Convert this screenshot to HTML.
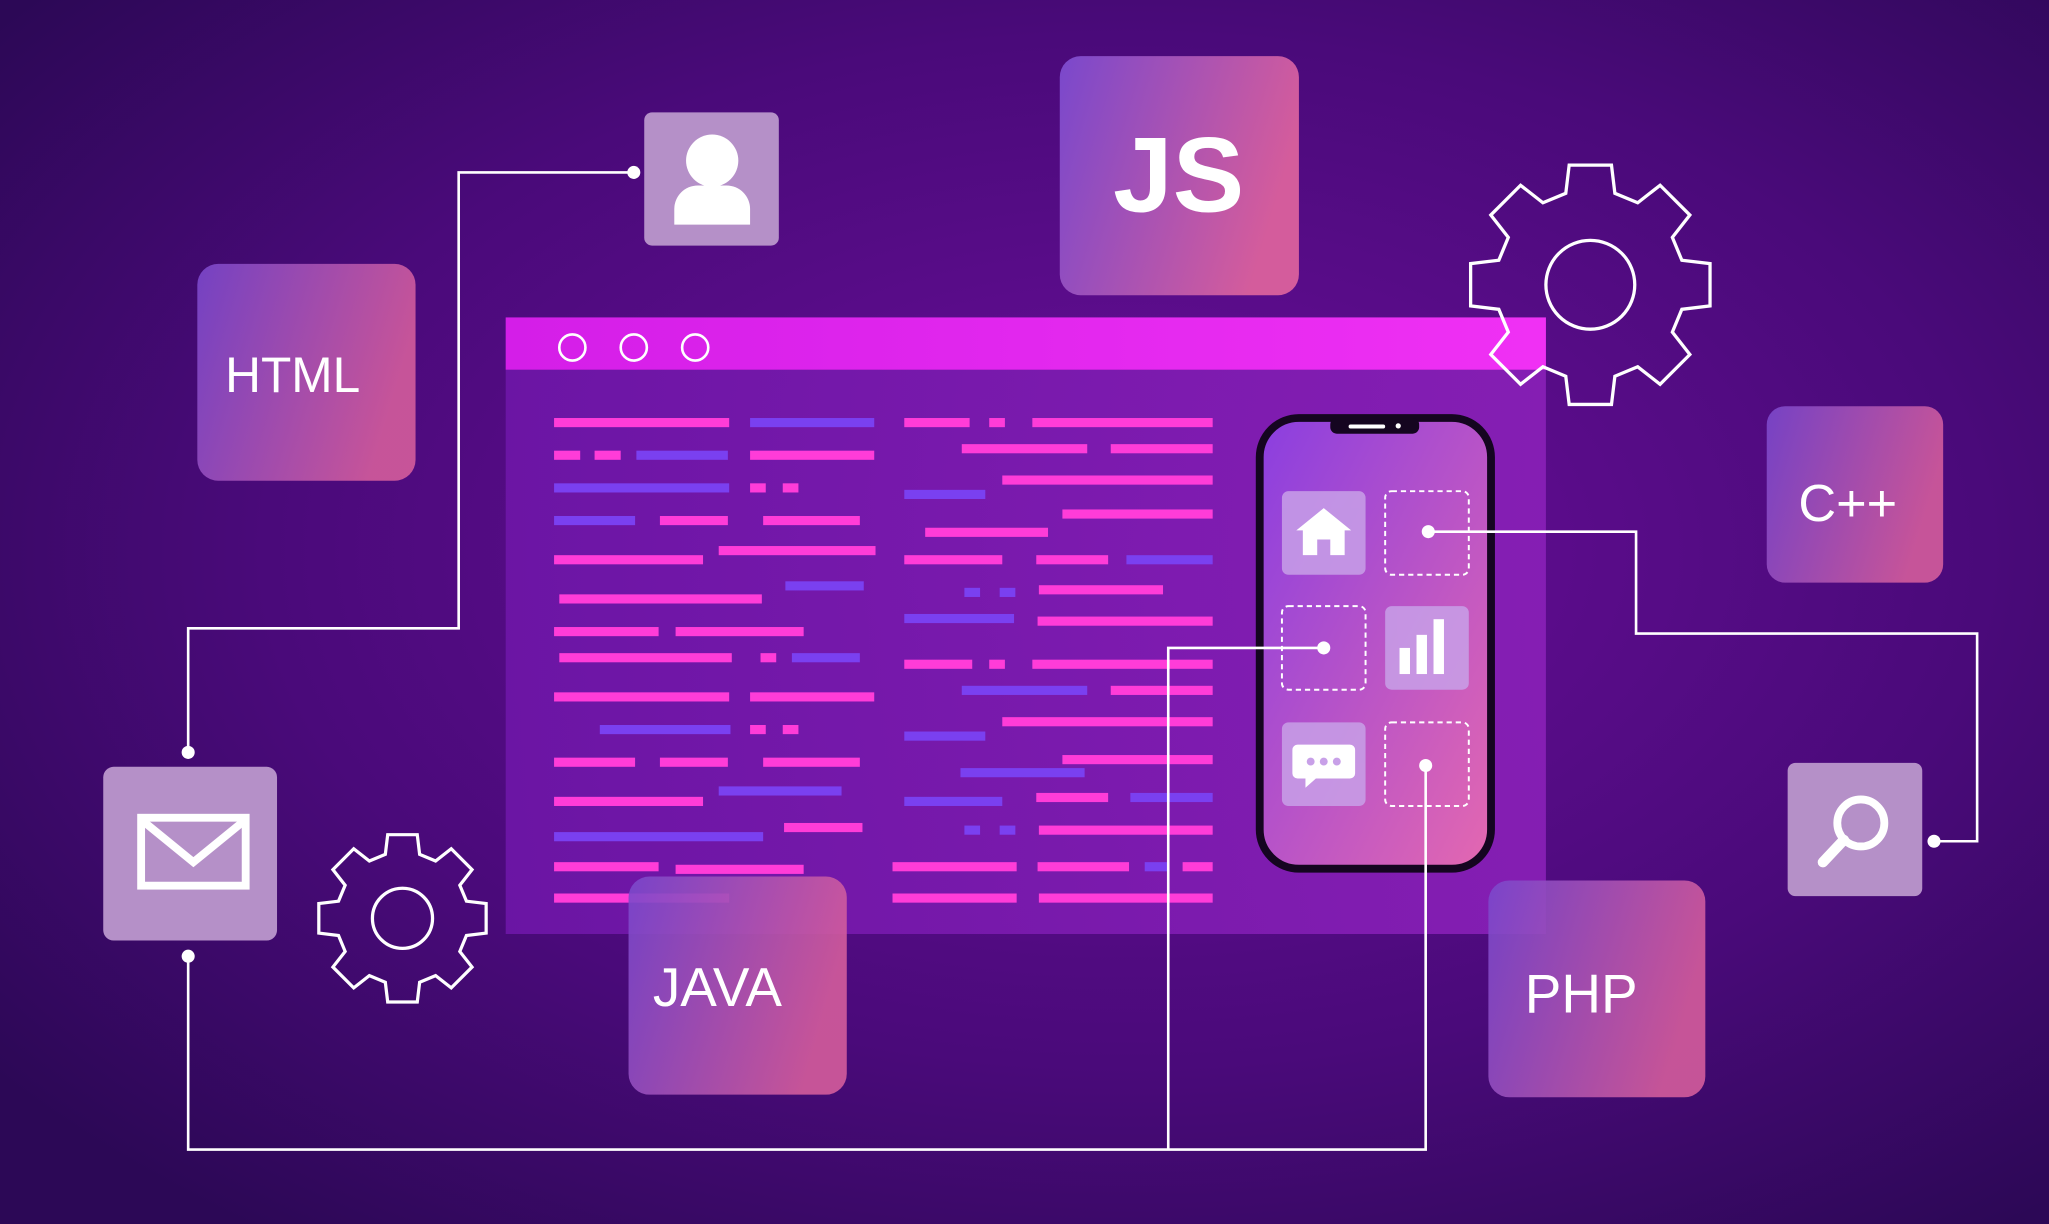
<!DOCTYPE html>
<html><head><meta charset="utf-8"><style>
html,body{margin:0;padding:0;background:#3a0a62;}
svg{display:block}
text{font-family:"Liberation Sans",sans-serif;fill:#fff}
</style></head><body>
<svg width="2049" height="1224" viewBox="0 0 1568 937" preserveAspectRatio="none" xmlns="http://www.w3.org/2000/svg">
<defs>
<radialGradient id="bg" cx="0.55" cy="0.45" r="0.7">
<stop offset="0" stop-color="#6a0f9a"/><stop offset="0.6" stop-color="#4a0a7a"/><stop offset="1" stop-color="#2c0856"/></radialGradient>
<linearGradient id="tile" x1="0" y1="0" x2="1" y2="0.3">
<stop offset="0" stop-color="#7a48cc"/><stop offset="1" stop-color="#d45c9c"/></linearGradient>
<linearGradient id="bar" x1="0" x2="1"><stop offset="0" stop-color="#d41ee8"/><stop offset="1" stop-color="#f030f4"/></linearGradient>
<linearGradient id="win" x1="0" x2="1"><stop offset="0" stop-color="#6e16a8"/><stop offset="1" stop-color="#8a20b8"/></linearGradient>
<linearGradient id="phone" x1="0" y1="0" x2="1" y2="1"><stop offset="0" stop-color="#8a3ee0"/><stop offset="1" stop-color="#e468b0"/></linearGradient>
<polygon id="gear" points=".753,-.202 .985,-.174 .985,.174 .753,.202 .675,.39 .819,.574 .574,.819 .39,.675 .202,.753 .174,.985 -.174,.985 -.202,.753 -.39,.675 -.574,.819 -.819,.574 -.675,.39 -.753,.202 -.985,.174 -.985,-.174 -.753,-.202 -.675,-.39 -.819,-.574 -.574,-.819 -.39,-.675 -.202,-.753 -.174,-.985 .174,-.985 .202,-.753 .39,-.675 .574,-.819 .819,-.574 .675,-.39"/>
</defs>
<rect width="1568" height="937" fill="url(#bg)"/>

<rect x="387" y="243" width="796" height="472" fill="url(#win)" opacity="0.9"/>
<rect x="387" y="243" width="796" height="40" fill="url(#bar)"/>
<g fill="none" stroke="#fff" stroke-width="2"><circle cx="438" cy="266" r="10"/><circle cx="485" cy="266" r="10"/><circle cx="532" cy="266" r="10"/></g>

<g>
<g fill="#ff3cd8">
<rect x="424" y="320" width="134" height="7"/><rect x="692" y="320" width="50" height="7"/><rect x="757" y="320" width="12" height="7"/><rect x="790" y="320" width="138" height="7"/>
<rect x="424" y="345" width="20" height="7"/><rect x="455" y="345" width="20" height="7"/><rect x="574" y="345" width="95" height="7"/><rect x="736" y="340" width="96" height="7"/><rect x="850" y="340" width="78" height="7"/>
<rect x="574" y="370" width="12" height="7"/><rect x="599" y="370" width="12" height="7"/><rect x="767" y="364" width="161" height="7"/>
<rect x="505" y="395" width="52" height="7"/><rect x="584" y="395" width="74" height="7"/><rect x="813" y="390" width="115" height="7"/>
<rect x="424" y="425" width="114" height="7"/><rect x="550" y="418" width="120" height="7"/><rect x="708" y="404" width="94" height="7"/><rect x="692" y="425" width="75" height="7"/><rect x="793" y="425" width="55" height="7"/>
<rect x="428" y="455" width="155" height="7"/><rect x="795" y="448" width="95" height="7"/>
<rect x="424" y="480" width="80" height="7"/><rect x="517" y="480" width="98" height="7"/><rect x="794" y="472" width="134" height="7"/>
<rect x="428" y="500" width="132" height="7"/><rect x="582" y="500" width="12" height="7"/><rect x="692" y="505" width="52" height="7"/><rect x="757" y="505" width="12" height="7"/><rect x="790" y="505" width="138" height="7"/>
<rect x="424" y="530" width="134" height="7"/><rect x="574" y="530" width="95" height="7"/><rect x="850" y="525" width="78" height="7"/>
<rect x="574" y="555" width="12" height="7"/><rect x="599" y="555" width="12" height="7"/><rect x="767" y="549" width="161" height="7"/>
<rect x="424" y="580" width="62" height="7"/><rect x="505" y="580" width="52" height="7"/><rect x="584" y="580" width="74" height="7"/><rect x="813" y="578" width="115" height="7"/>
<rect x="424" y="610" width="114" height="7"/><rect x="793" y="607" width="55" height="7"/>
<rect x="600" y="630" width="60" height="7"/><rect x="795" y="632" width="133" height="7"/>
<rect x="424" y="660" width="80" height="7"/><rect x="517" y="662" width="98" height="7"/><rect x="683" y="660" width="95" height="7"/><rect x="794" y="660" width="70" height="7"/><rect x="905" y="660" width="23" height="7"/>
<rect x="424" y="684" width="134" height="7"/><rect x="683" y="684" width="95" height="7"/><rect x="795" y="684" width="133" height="7"/>
</g>
<g fill="#7a40f0">
<rect x="574" y="320" width="95" height="7"/>
<rect x="487" y="345" width="70" height="7"/>
<rect x="424" y="370" width="134" height="7"/><rect x="692" y="375" width="62" height="7"/>
<rect x="424" y="395" width="62" height="7"/>
<rect x="862" y="425" width="66" height="7"/>
<rect x="601" y="445" width="60" height="7"/><rect x="738" y="450" width="12" height="7"/><rect x="765" y="450" width="12" height="7"/>
<rect x="692" y="470" width="84" height="7"/>
<rect x="606" y="500" width="52" height="7"/>
<rect x="736" y="525" width="96" height="7"/>
<rect x="459" y="555" width="100" height="7"/><rect x="692" y="560" width="62" height="7"/>
<rect x="550" y="602" width="94" height="7"/><rect x="735" y="588" width="95" height="7"/><rect x="692" y="610" width="75" height="7"/><rect x="865" y="607" width="63" height="7"/>
<rect x="424" y="637" width="160" height="7"/><rect x="738" y="632" width="12" height="7"/><rect x="765" y="632" width="12" height="7"/>
<rect x="876" y="660" width="18" height="7"/>
</g>
</g>

<g fill="none" stroke="#fff" stroke-width="2.5">
<use href="#gear" transform="translate(1217,218) scale(93)" style="stroke-width:0.027"/>
<circle cx="1217" cy="218" r="34"/>
<use href="#gear" transform="translate(308,703) scale(65)" style="stroke-width:0.038"/>
<circle cx="308" cy="703" r="23"/>
</g>

<!-- phone -->
<rect x="964" y="320" width="177" height="345" rx="30" fill="url(#phone)" stroke="#150520" stroke-width="6"/>
<rect x="1018" y="320" width="68" height="12" rx="5" fill="#150520"/>
<rect x="1032" y="325" width="28" height="3" rx="1.5" fill="#fff"/><circle cx="1070" cy="326" r="2" fill="#fff"/>
<g fill="#c8a0e8" opacity="0.85">
<rect x="981" y="376" width="64" height="64" rx="5"/>
<rect x="1060" y="464" width="64" height="64" rx="5"/>
<rect x="981" y="553" width="64" height="64" rx="5"/>
</g>
<g fill="none" stroke="#fff" stroke-width="1.5" stroke-dasharray="4,3">
<rect x="1060" y="376" width="64" height="64" rx="5"/>
<rect x="981" y="464" width="64" height="64" rx="5"/>
<rect x="1060" y="553" width="64" height="64" rx="5"/>
</g>
<g fill="#fff">
<polygon points="1013,389 992,406 997,406 997,425 1008,425 1008,413 1018,413 1018,425 1029,425 1029,406 1034,406"/>
<rect x="1071" y="496" width="8" height="20"/><rect x="1084" y="486" width="8" height="30"/><rect x="1097" y="474" width="8" height="42"/>
<path d="M993,570 h40 a4,4 0 0 1 4,4 v18 a4,4 0 0 1 -4,4 h-26 l-8,7 v-7 h-6 a4,4 0 0 1 -4,-4 v-18 a4,4 0 0 1 4,-4z"/>
</g>
<g fill="#c8a0e8"><circle cx="1003" cy="583" r="3"/><circle cx="1013" cy="583" r="3"/><circle cx="1023" cy="583" r="3"/></g>

<!-- connectors on top -->
<g fill="none" stroke="#fff" stroke-width="2">
<polyline points="485,132 351,132 351,481 144,481 144,576"/>
<polyline points="144,732 144,880 1091,880 1091,586"/>
<polyline points="894,880 894,496 1013,496"/>
<polyline points="1093,407 1252,407 1252,485 1513,485 1513,644 1480,644"/>
</g>
<g fill="#fff"><circle cx="1093" cy="407" r="5"/><circle cx="1013" cy="496" r="5"/><circle cx="1091" cy="586" r="5"/></g>

<rect x="151" y="202" width="167" height="166" rx="16" fill="url(#tile)" opacity="0.9"/>
<text x="224" y="300" font-size="38" text-anchor="middle">HTML</text>
<rect x="811" y="43" width="183" height="183" rx="16" fill="url(#tile)"/>
<text x="902" y="162" font-size="82" font-weight="bold" text-anchor="middle">JS</text>
<rect x="1352" y="311" width="135" height="135" rx="14" fill="url(#tile)" opacity="0.9"/>
<text x="1414" y="399" font-size="40" text-anchor="middle">C++</text>
<rect x="481" y="671" width="167" height="167" rx="16" fill="url(#tile)" opacity="0.9"/>
<text x="549" y="770" font-size="42" text-anchor="middle">JAVA</text>
<rect x="1139" y="674" width="166" height="166" rx="16" fill="url(#tile)" opacity="0.9"/>
<text x="1210" y="775" font-size="42" text-anchor="middle">PHP</text>

<rect x="493" y="86" width="103" height="102" rx="6" fill="#b590c8"/>
<circle cx="545" cy="123" r="20" fill="#fff"/>
<path d="M516,172 v-12 a18,18 0 0 1 18,-18 h22 a18,18 0 0 1 18,18 v12z" fill="#fff"/>
<rect x="79" y="587" width="133" height="133" rx="8" fill="#b590c8"/>
<rect x="108" y="626" width="80" height="52" fill="none" stroke="#fff" stroke-width="6"/>
<polyline points="110,629 148,660 186,629" fill="none" stroke="#fff" stroke-width="6"/>
<rect x="1368" y="584" width="103" height="102" rx="6" fill="#b590c8"/>
<circle cx="1424" cy="630" r="18" fill="none" stroke="#fff" stroke-width="6"/>
<line x1="1411" y1="643" x2="1395" y2="660" stroke="#fff" stroke-width="8" stroke-linecap="round"/>

<g fill="#fff"><circle cx="485" cy="132" r="5"/><circle cx="144" cy="576" r="5"/><circle cx="144" cy="732" r="5"/><circle cx="1480" cy="644" r="5"/></g>
</svg>
</body></html>
